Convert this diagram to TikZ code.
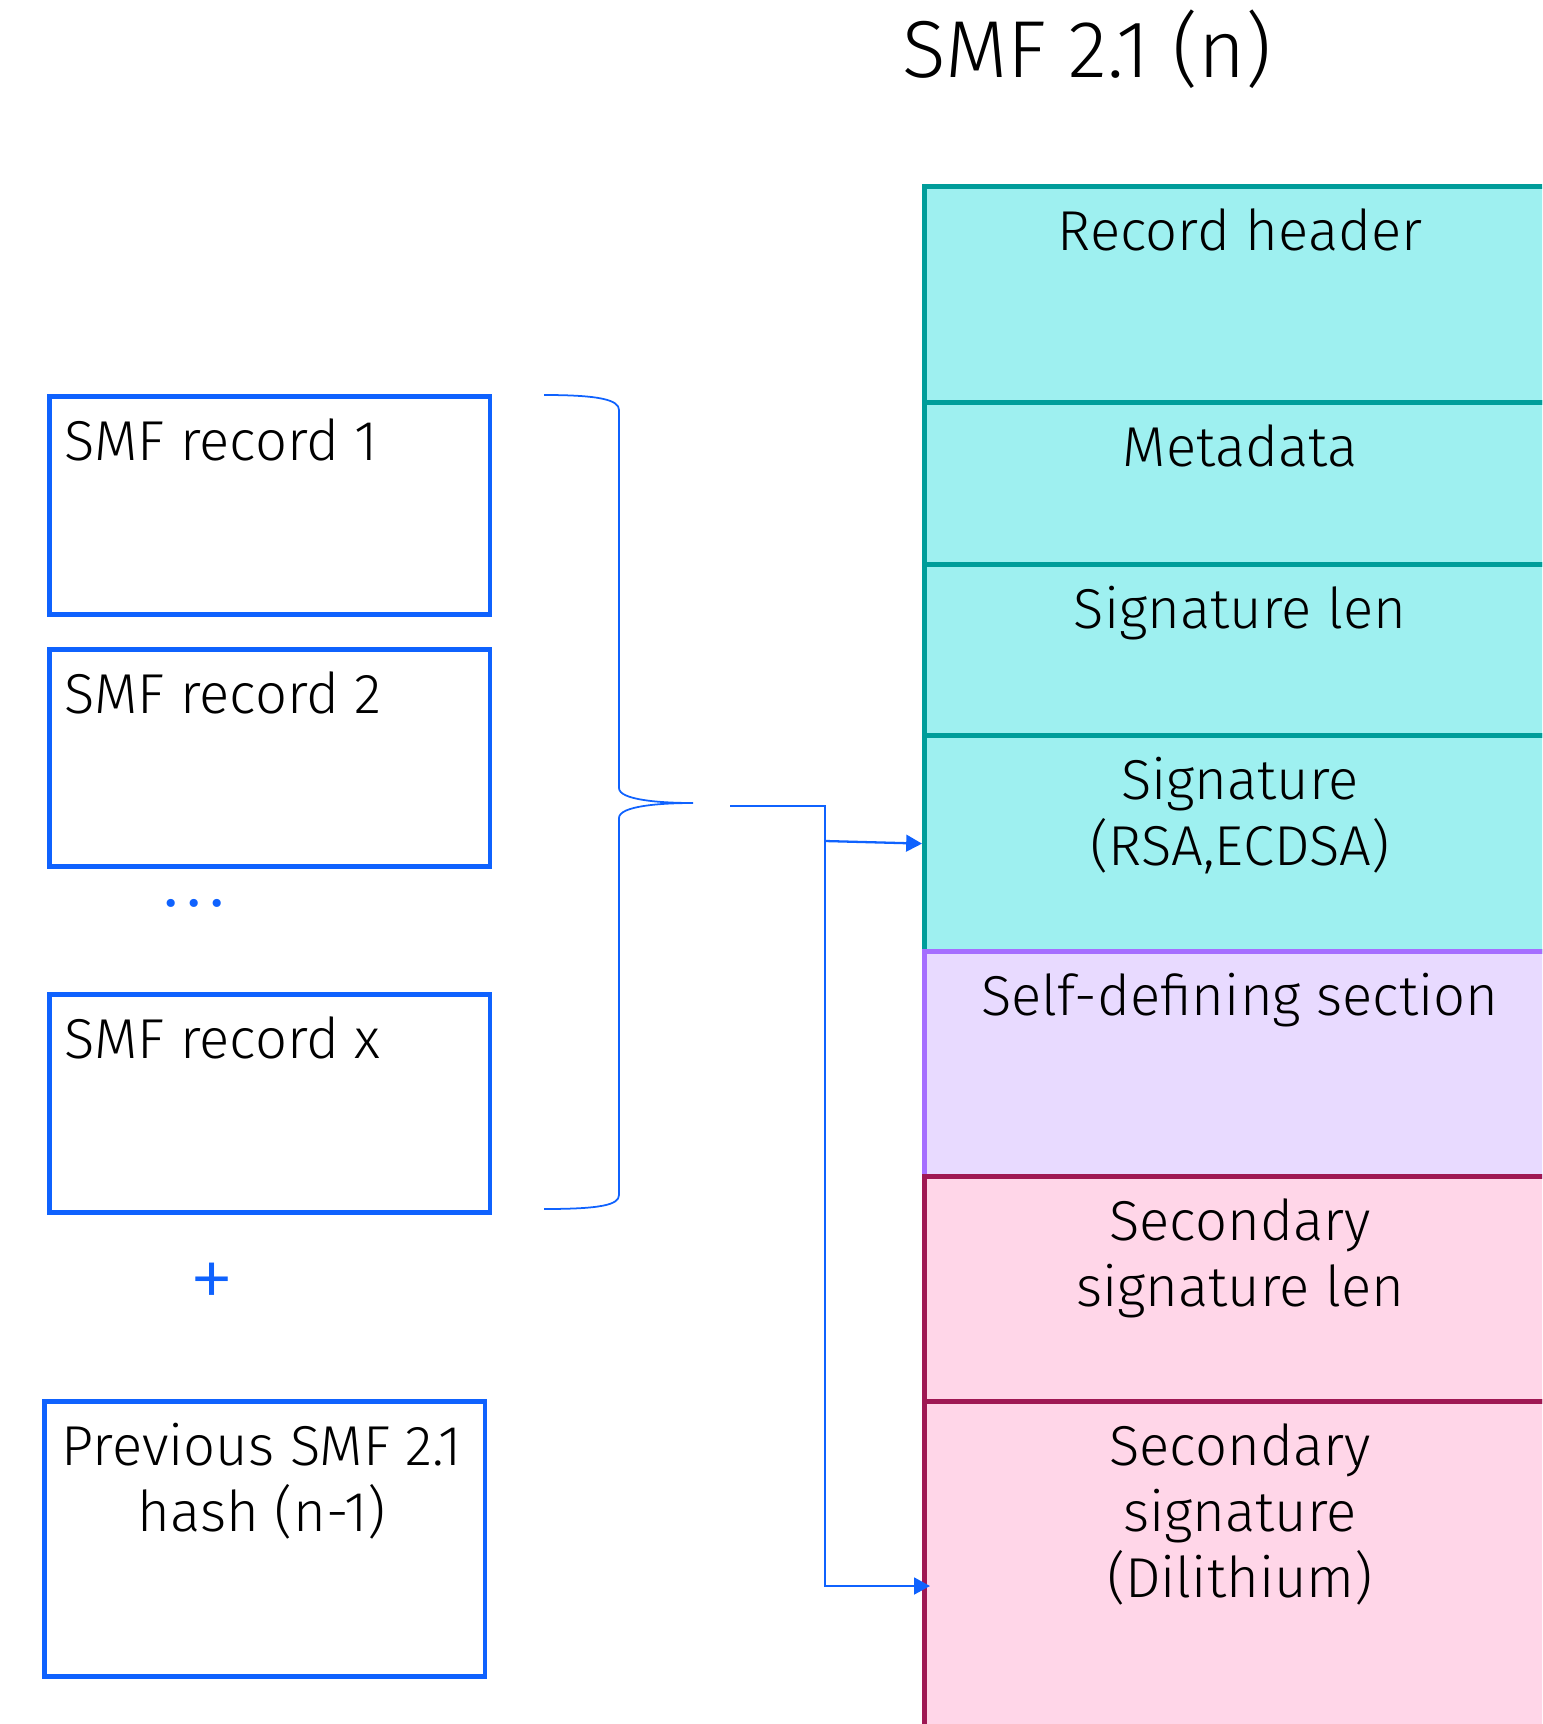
\documentclass[tikz,border=0pt]{standalone}
\usepackage{fontspec}
\setmainfont{Fira Sans Light}
\definecolor{ibmblue}{RGB}{15, 98, 254}
\definecolor{tealline}{RGB}{0, 157, 154}
\definecolor{tealfill}{RGB}{158, 240, 240}
\definecolor{purpline}{RGB}{165, 110, 255}
\definecolor{purpfill}{RGB}{232, 218, 255}
\definecolor{pinkline}{RGB}{159, 24, 83}
\definecolor{pinkfill}{RGB}{255, 214, 232}
\usetikzlibrary{arrows.meta, positioning, calc}

\tikzset{
  field/.style={draw=tealline, fill=tealfill, line width=3pt, minimum width=12.72cm, anchor=north west, inner sep=0pt},
  fieldtxt/.style={anchor=north, inner sep=0pt, align=center, font=\fontsize{32}{37.6}\selectfont},
  recbox/.style={draw=ibmblue, line width=2.6pt, minimum width=8.82cm, anchor=north west, inner sep=0pt},
  rectxt/.style={anchor=north west, inner sep=0pt, font=\fontsize{32}{37.6}\selectfont},
  link/.style={draw=ibmblue, line width=1.3pt},
  linkarrow/.style={link, -{Triangle[length=9pt, width=9.5pt]}}
}

\begin{document}
\begin{tikzpicture}[x=0.02cm, y=-0.02cm]
  \useasboundingbox (0,0) rectangle (1542,1724);
  \clip (0,0) rectangle (1542,1724);

  % Title
  \node[anchor=north, inner sep=0pt, font=\fontsize{46}{55}\selectfont] (title) at (1087,10) {SMF 2.1 (n)};

  % SMF 2.1 record layout
  \node[field, minimum height=4.32cm] (hdr) at (922,184) {};
  \node[fieldtxt] (hdrtxt) at (1240,208) {Record header};
  \node[field, minimum height=3.24cm] (meta) at (922,400) {};
  \node[fieldtxt] (metatxt) at (1240,424) {Metadata};
  \node[field, minimum height=3.42cm] (siglen) at (922,562) {};
  \node[fieldtxt] (siglentxt) at (1240,586) {Signature len};
  \node[field, minimum height=4.32cm] (sig) at (922,733) {};
  \node[fieldtxt] (sigtxt) at (1240,757) {Signature\\(RSA,ECDSA)};
  \node[field, draw=purpline, fill=purpfill, minimum height=4.5cm] (sds) at (922,949) {};
  \node[fieldtxt] (sdstxt) at (1240,973) {Self-defining section};
  \node[field, draw=pinkline, fill=pinkfill, minimum height=4.5cm] (seclen) at (922,1174) {};
  \node[fieldtxt] (seclentxt) at (1240,1198) {Secondary\\signature len};
  \node[field, draw=pinkline, fill=pinkfill, minimum height=7.48cm] (secsig) at (922,1399) {};
  \node[fieldtxt] (secsigtxt) at (1240,1423) {Secondary\\signature\\(Dilithium)};

  % Hashed records
  \node[recbox, minimum height=4.36cm] (rec1) at (47,394) {};
  \node[rectxt] (rec1txt) at (64,418) {SMF record 1};
  \node[recbox, minimum height=4.34cm] (rec2) at (47,647) {};
  \node[rectxt] (rec2txt) at (64,671) {SMF record 2};
  \node[font=\fontsize{48}{54}\selectfont, text=ibmblue, inner sep=0pt] (dots) at (194,903) {.\hspace{3pt}.\hspace{3pt}.};
  \node[recbox, minimum height=4.36cm] (recx) at (47,992) {};
  \node[rectxt] (recxtxt) at (64,1016) {SMF record x};
  \node[font=\fontsize{52}{58}\selectfont, text=ibmblue, inner sep=0pt] (plus) at (212,1286) {+};
  \node[recbox, minimum height=5.5cm] (prev) at (42,1399) {};
  \node[rectxt, anchor=north, align=center] (prevtxt) at (262,1423) {Previous SMF 2.1\\hash (n-1)};

  % Brace
  \coordinate (tip) at (693,803);
  \draw[ibmblue, line width=1pt] (544,395) .. controls (600,395) and (619,400) .. (619,410)
    -- (619,788) .. controls (619,800) and (660,803) .. (tip)
    .. controls (660,803) and (619,806) .. (619,818)
    -- (619,1195) .. controls (619,1205) and (600,1209) .. (544,1209);

  % Connectors
  \coordinate (src) at (730,806);
  \coordinate (jn) at (825,841);
  \coordinate (dil) at (930,1586);
  \draw[link] (src) -| (jn);
  \draw[linkarrow] (jn) -- (sig.west);
  \draw[linkarrow] (jn) |- (dil);
\end{tikzpicture}
\end{document}
